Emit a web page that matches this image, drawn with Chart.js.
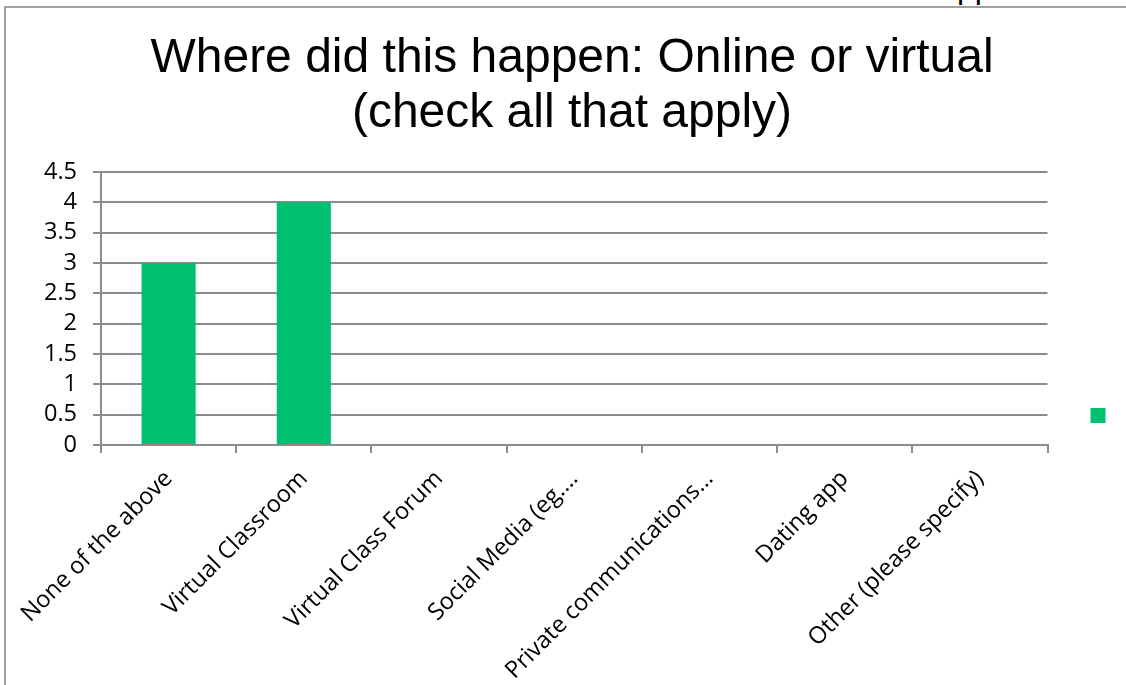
<html lang="en">
<head>
<meta charset="utf-8">
<style>
    body { margin: 0; overflow: hidden; background: #fff; }
    .frame { position: absolute; left: 4px; top: 6px; width: 1300px; height: 900px; border: 2px solid #a0a0a0; }
    .stray { position: absolute; left: 957px; top: -29px; font: 32px 'Liberation Sans', Arial, sans-serif; line-height: 1; color: #000; }
    #chartBox { position: absolute; left: 0; top: 0; width: 1126px; height: 685px; }
</style>
</head>
<body>
<div class="frame"></div>
<div class="stray">pp</div>
<div id="chartBox">
    <canvas id="placeChart" width="1126" height="685"></canvas>
</div>
<script src="https://cdn.jsdelivr.net/npm/chart.js"></script>
<script>
    // 차트 데이터
    const titleLines = ['Where did this happen: Online or virtual', '(check all that apply)'];
    const categories = [
        'None of the above',
        'Virtual Classroom',
        'Virtual Class Forum',
        'Social Media (eg.\u2026',
        'Private communications\u2026',
        'Dating app',
        'Other (please specify)'
    ];
    const counts = [3, 4, 0, 0, 0, 0, 0];
    const yMin = 0;
    const yMax = 4.5;
    const yStep = 0.5;

    const barColor = '#00bf6f';
    const gridColor = '#8c8c8c';
    const tickFont = { family: "'Open Sans'", size: 23.5 };
    const padLeft = 28;

    const chart = new Chart(document.getElementById('placeChart'), {
        type: 'bar',
        data: {
            labels: categories,
            datasets: [{
                label: '',
                data: counts,
                backgroundColor: barColor,
                borderWidth: 0,
                barPercentage: 0.4,
                categoryPercentage: 1
            }]
        },
        options: {
            responsive: false,
            animation: false,
            layout: { padding: { left: padLeft, right: 10, top: 0, bottom: 0 } },
            plugins: {
                title: {
                    display: true,
                    text: titleLines,
                    color: '#000',
                    font: { family: "'Liberation Sans'", size: 48, weight: 'normal', lineHeight: 1.15 },
                    padding: { top: 31, bottom: 30.6 }
                },
                legend: {
                    position: 'right',
                    // 범례 상자를 아래로 내리기 위한 빈 제목
                    title: { display: true, text: ' ', font: { size: 10 }, padding: { top: 134, bottom: 0 } },
                    labels: { boxWidth: 15, boxHeight: 15, padding: 43, font: { size: 1 } }
                },
                tooltip: { enabled: false }
            },
            scales: {
                y: {
                    min: yMin,
                    max: yMax,
                    ticks: { stepSize: yStep, autoSkip: false, color: '#000', font: tickFont, padding: 16, callback: v => String(v) },
                    grid: { color: gridColor, lineWidth: 2, tickLength: 8 },
                    border: { color: gridColor, width: 2 },
                    afterFit: scale => { scale.width = 101 - padLeft; }
                },
                x: {
                    ticks: { color: '#000', font: tickFont, minRotation: 45, maxRotation: 45, autoSkip: false, padding: 12 },
                    grid: { drawOnChartArea: false, color: gridColor, lineWidth: 2, tickLength: 8 },
                    border: { color: gridColor, width: 2 },
                    afterFit: scale => { scale.height = 685 - 445; }
                }
            }
        }
    });
</script>
</body>
</html>
